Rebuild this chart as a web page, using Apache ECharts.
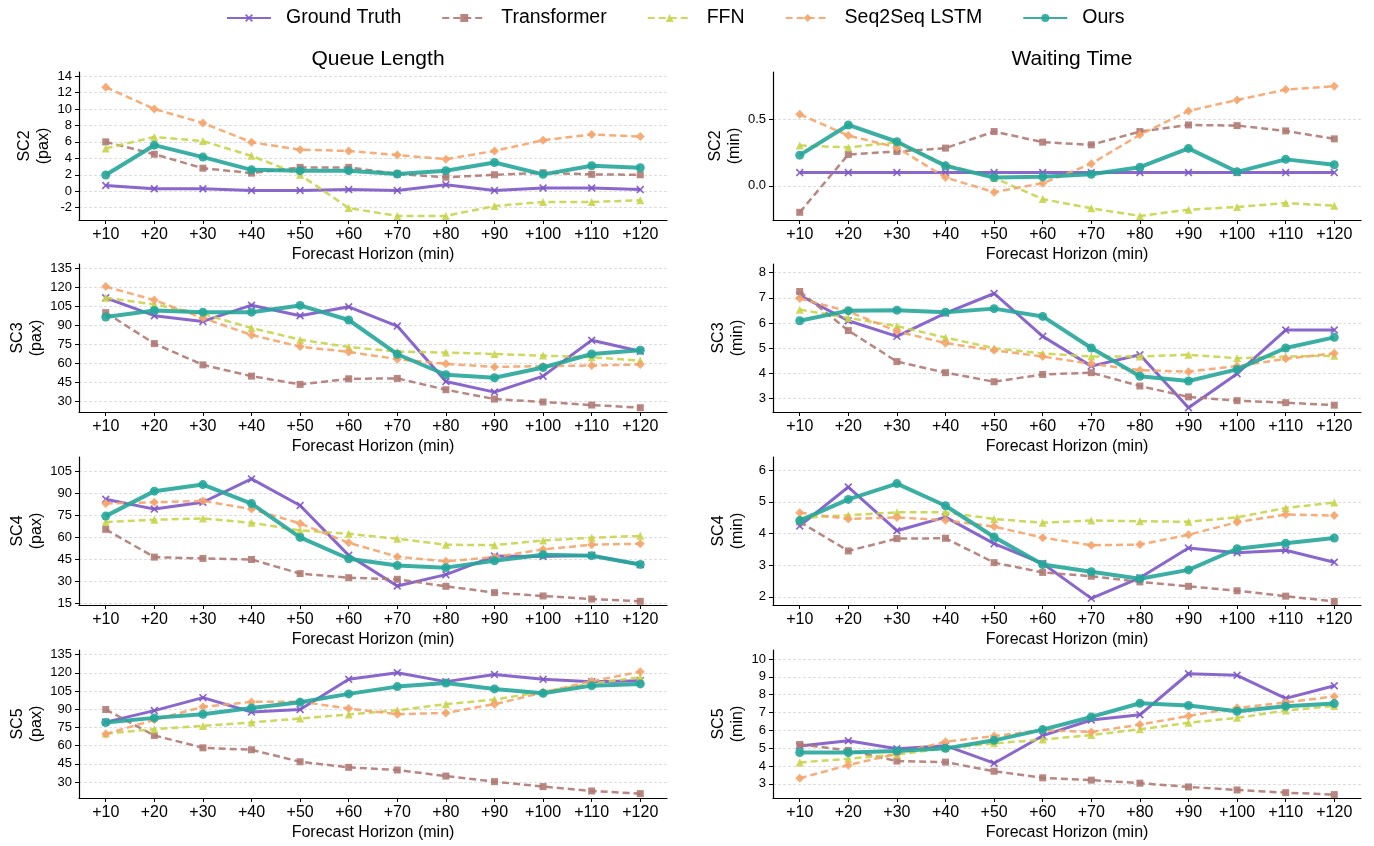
<!DOCTYPE html>
<html>
<head>
<meta charset="utf-8">
<script src="https://cdn.jsdelivr.net/npm/echarts@6/dist/echarts.min.js"></script>
<style>
html,body{margin:0;padding:0;background:#fff;}
#chart{width:1374px;height:846px;}
</style>
</head>
<body>
<div id="chart"></div>
<script>
// ---------- DATA ----------
const horizons = [10, 20, 30, 40, 50, 60, 70, 80, 90, 100, 110, 120];
const seriesNames = ['Ground Truth', 'Transformer', 'FFN', 'Seq2Seq LSTM', 'Ours'];
const columnTitles = ['Queue Length', 'Waiting Time'];
const xAxisTitle = 'Forecast Horizon (min)';

// SC2 queue length (pax)
const q_sc2_gt   = [0.7, 0.3, 0.3, 0.1, 0.1, 0.2, 0.1, 0.8, 0.1, 0.4, 0.4, 0.2];
const q_sc2_tf   = [6.0, 4.5, 2.8, 2.2, 2.9, 2.9, 2.1, 1.7, 2.0, 2.25, 2.05, 2.0];
const q_sc2_ffn  = [5.2, 6.6, 6.1, 4.3, 2.0, -2.05, -3.0, -3.0, -1.8, -1.3, -1.3, -1.1];
const q_sc2_s2s  = [12.66, 10.0, 8.3, 5.95, 5.05, 4.9, 4.4, 3.9, 4.9, 6.2, 6.9, 6.65];
const q_sc2_ours = [1.97, 5.6, 4.15, 2.6, 2.5, 2.5, 2.1, 2.5, 3.5, 2.05, 3.1, 2.85];
const q_sc2_ticks = [-2, 0, 2, 4, 6, 8, 10, 12, 14];

// SC2 waiting time (min)
const w_sc2_gt   = [0.1, 0.1, 0.1, 0.1, 0.1, 0.1, 0.1, 0.1, 0.1, 0.1, 0.1, 0.1];
const w_sc2_tf   = [-0.2, 0.237, 0.26, 0.285, 0.41, 0.33, 0.31, 0.41, 0.46, 0.455, 0.415, 0.355];
const w_sc2_ffn  = [0.305, 0.29, 0.33, 0.16, 0.06, -0.10, -0.17, -0.227, -0.18, -0.16, -0.13, -0.15];
const w_sc2_s2s  = [0.54, 0.38, 0.29, 0.063, -0.048, 0.02, 0.167, 0.386, 0.566, 0.649, 0.727, 0.752];
const w_sc2_ours = [0.232, 0.46, 0.333, 0.151, 0.063, 0.068, 0.088, 0.141, 0.283, 0.106, 0.2, 0.159];
const w_sc2_ticks = [0.0, 0.5];

// SC3 queue length (pax)
const q_sc3_gt   = [111.7, 97.6, 93.1, 105.9, 97.6, 104.6, 89.4, 45.7, 37.3, 49.9, 78.2, 69.5];
const q_sc3_tf   = [100, 75.6, 58.8, 49.9, 43.4, 47.8, 48.1, 39.2, 31.8, 29.5, 27.1, 25.0];
const q_sc3_ffn  = [111.7, 106.5, 98.9, 87.9, 78.7, 72.9, 69.3, 68.5, 67.4, 66.1, 64.8, 62.2];
const q_sc3_s2s  = [120.6, 109.9, 95.7, 82.4, 73.2, 69.0, 63.3, 59.6, 57.2, 57.8, 58.3, 59.1];
const q_sc3_ours = [96.5, 101.7, 100.4, 100.4, 105.7, 94.2, 67.2, 51.0, 48.6, 56.7, 67.4, 70.3];
const q_sc3_ticks = [30, 45, 60, 75, 90, 105, 120, 135];

// SC3 waiting time (min)
const w_sc3_gt   = [7.1, 6.09, 5.47, 6.39, 7.17, 5.47, 4.29, 4.74, 2.64, 3.99, 5.72, 5.72];
const w_sc3_tf   = [7.25, 5.7, 4.47, 4.03, 3.67, 3.96, 4.03, 3.5, 3.07, 2.92, 2.84, 2.74];
const w_sc3_ffn  = [6.53, 6.2, 5.88, 5.42, 5.0, 4.79, 4.67, 4.67, 4.74, 4.6, 4.67, 4.7];
const w_sc3_s2s  = [6.97, 6.46, 5.67, 5.2, 4.92, 4.67, 4.38, 4.13, 4.07, 4.29, 4.58, 4.8];
const w_sc3_ours = [6.09, 6.49, 6.51, 6.43, 6.57, 6.26, 5.01, 3.89, 3.7, 4.16, 5.01, 5.43];
const w_sc3_ticks = [3, 4, 5, 6, 7, 8];

// SC4 queue length (pax)
const q_sc4_gt   = [86.1, 79.3, 84.0, 100, 81.8, 47.6, 26.6, 34.4, 47.1, 46.9, 47.6, 41.2];
const q_sc4_tf   = [65.4, 46.4, 45.5, 44.8, 35.1, 32.3, 31.2, 26.4, 22.1, 19.8, 17.7, 16.1];
const q_sc4_ffn  = [70.4, 72.0, 72.9, 69.9, 64.7, 62.4, 59.0, 54.9, 54.6, 57.8, 59.7, 61.0];
const q_sc4_s2s  = [83.1, 84.0, 84.9, 79.3, 69.5, 56.2, 46.7, 43.5, 46.4, 51.7, 54.9, 55.6];
const q_sc4_ours = [74.5, 91.6, 96.1, 83.1, 59.9, 45.3, 40.7, 39.2, 43.9, 48.0, 47.4, 41.4];
const q_sc4_ticks = [15, 30, 45, 60, 75, 90, 105];

// SC4 waiting time (min)
const w_sc4_gt   = [4.24, 5.47, 4.09, 4.52, 3.68, 3.05, 1.95, 2.6, 3.54, 3.39, 3.47, 3.09];
const w_sc4_tf   = [4.37, 3.45, 3.84, 3.85, 3.08, 2.77, 2.65, 2.47, 2.33, 2.19, 2.02, 1.85];
const w_sc4_ffn  = [4.49, 4.58, 4.67, 4.67, 4.46, 4.34, 4.41, 4.39, 4.37, 4.51, 4.81, 4.98];
const w_sc4_s2s  = [4.66, 4.46, 4.51, 4.42, 4.22, 3.87, 3.63, 3.65, 3.96, 4.36, 4.6, 4.57];
const w_sc4_ours = [4.41, 5.08, 5.58, 4.88, 3.89, 3.02, 2.79, 2.57, 2.85, 3.52, 3.69, 3.86];
const w_sc4_ticks = [2, 3, 4, 5, 6];

// SC5 queue length (pax)
const q_sc5_gt   = [79.4, 88.9, 99.6, 87.8, 89.8, 114.7, 120.2, 112.8, 118.6, 114.7, 112.8, 113.6];
const q_sc5_tf   = [89.8, 68.4, 58.2, 56.6, 46.7, 42.1, 39.9, 34.9, 30.3, 26.2, 22.6, 20.4];
const q_sc5_ffn  = [70.0, 73.6, 76.3, 79.1, 82.4, 85.7, 89.2, 94.2, 98.0, 104.6, 111.2, 116.4];
const q_sc5_s2s  = [69.5, 81.3, 92.0, 96.1, 96.3, 90.6, 85.9, 87.0, 94.2, 103.8, 113.1, 121.0];
const q_sc5_ours = [79.1, 82.9, 85.9, 91.1, 95.8, 102.7, 108.7, 111.7, 106.8, 103.2, 109.5, 110.9];
const q_sc5_ticks = [30, 45, 60, 75, 90, 105, 120, 135];

// SC5 waiting time (min)
const w_sc5_gt   = [5.12, 5.42, 4.97, 5.14, 4.16, 5.70, 6.58, 6.87, 9.17, 9.08, 7.79, 8.5];
const w_sc5_tf   = [5.21, 4.88, 4.28, 4.22, 3.71, 3.34, 3.21, 3.04, 2.83, 2.66, 2.51, 2.4];
const w_sc5_ffn  = [4.2, 4.41, 4.65, 4.99, 5.27, 5.48, 5.74, 6.06, 6.42, 6.7, 7.11, 7.37];
const w_sc5_s2s  = [3.32, 4.05, 4.69, 5.36, 5.68, 6.0, 5.91, 6.32, 6.81, 7.26, 7.56, 7.9];
const w_sc5_ours = [4.76, 4.76, 4.84, 4.99, 5.44, 6.04, 6.75, 7.52, 7.39, 7.07, 7.35, 7.5];
const w_sc5_ticks = [3, 4, 5, 6, 7, 8, 9, 10];

// ---------- LAYOUT / STYLE ----------
const FONT = "'Liberation Sans', Arial, Helvetica, sans-serif";
const colLeft = [79, 773];
const gridWidth = 588;
const rowTop = [72, 264, 457, 650];
const gridHeight = 148;

const panels = [
  {row: 0, col: 0, name: 'SC2\n(pax)', ticks: q_sc2_ticks, min: -3.5, max: 14.5, dec: 0, data: [q_sc2_gt, q_sc2_tf, q_sc2_ffn, q_sc2_s2s, q_sc2_ours]},
  {row: 0, col: 1, name: 'SC2\n(min)', ticks: w_sc2_ticks, min: -0.258, max: 0.86, dec: 1, data: [w_sc2_gt, w_sc2_tf, w_sc2_ffn, w_sc2_s2s, w_sc2_ours]},
  {row: 1, col: 0, name: 'SC3\n(pax)', ticks: q_sc3_ticks, min: 21.6, max: 138.4, dec: 0, data: [q_sc3_gt, q_sc3_tf, q_sc3_ffn, q_sc3_s2s, q_sc3_ours]},
  {row: 1, col: 1, name: 'SC3\n(min)', ticks: w_sc3_ticks, min: 2.47, max: 8.34, dec: 0, data: [w_sc3_gt, w_sc3_tf, w_sc3_ffn, w_sc3_s2s, w_sc3_ours]},
  {row: 2, col: 0, name: 'SC4\n(pax)', ticks: q_sc4_ticks, min: 13.6, max: 115, dec: 0, data: [q_sc4_gt, q_sc4_tf, q_sc4_ffn, q_sc4_s2s, q_sc4_ours]},
  {row: 2, col: 1, name: 'SC4\n(min)', ticks: w_sc4_ticks, min: 1.74, max: 6.42, dec: 0, data: [w_sc4_gt, w_sc4_tf, w_sc4_ffn, w_sc4_s2s, w_sc4_ours]},
  {row: 3, col: 0, name: 'SC5\n(pax)', ticks: q_sc5_ticks, min: 16.8, max: 138.9, dec: 0, data: [q_sc5_gt, q_sc5_tf, q_sc5_ffn, q_sc5_s2s, q_sc5_ours]},
  {row: 3, col: 1, name: 'SC5\n(min)', ticks: w_sc5_ticks, min: 2.21, max: 10.5, dec: 0, data: [w_sc5_gt, w_sc5_tf, w_sc5_ffn, w_sc5_s2s, w_sc5_ours]}
];

const X_PATH = 'path://M0,1.5 L1.5,0 L5,3.5 L8.5,0 L10,1.5 L6.5,5 L10,8.5 L8.5,10 L5,6.5 L1.5,10 L0,8.5 L3.5,5 Z';
const styles = [
  {color: '#7d56c6', width: 3,   type: 'solid',  symbol: X_PATH,     size: 8},
  {color: '#b07a73', width: 2.5, type: [7, 4],   symbol: 'rect',     size: 7},
  {color: '#c8d44a', width: 2.5, type: [7, 4],   symbol: 'triangle', size: 8},
  {color: '#f5a46a', width: 2.5, type: [7, 4],   symbol: 'diamond',  size: 9},
  {color: '#26a69a', width: 4,   type: 'solid',  symbol: 'circle',   size: 9}
];

const grids = [], xAxes = [], yAxes = [], series = [];
panels.forEach((p, i) => {
  grids.push({left: colLeft[p.col], top: rowTop[p.row], width: gridWidth, height: gridHeight, containLabel: false});
  xAxes.push({
    type: 'value', gridIndex: i, min: 4.5, max: 125.5, position: 'bottom',
    name: xAxisTitle, nameLocation: 'middle', nameGap: 27,
    nameTextStyle: {fontFamily: FONT, fontSize: 16, color: '#000'},
    axisLine: {show: true, onZero: false, lineStyle: {color: '#000', width: 1.2}},
    axisTick: {show: true, length: 4, inside: false, customValues: horizons, lineStyle: {color: '#000', width: 1}},
    axisLabel: {customValues: horizons, margin: 7, fontFamily: FONT, fontSize: 16, color: '#000',
                formatter: v => '+' + v},
    splitLine: {show: false}
  });
  yAxes.push({
    type: 'value', gridIndex: i, min: p.min, max: p.max, position: 'left',
    name: p.name, nameLocation: 'middle', nameGap: 26,
    nameTextStyle: {fontFamily: FONT, fontSize: 16, color: '#000', lineHeight: 19, align: 'center'},
    axisLine: {show: true, onZero: false, lineStyle: {color: '#000', width: 1.2}},
    axisTick: {show: true, length: 4, inside: false, customValues: p.ticks, lineStyle: {color: '#000', width: 1}},
    axisLabel: {customValues: p.ticks, margin: 7, fontFamily: FONT, fontSize: 13, color: '#000',
                formatter: v => Number(v).toFixed(p.dec)},
    splitLine: {show: true, lineStyle: {color: '#d6d6d6', width: 0.8, type: [3, 2]}}
  });
  p.data.forEach((arr, k) => {
    const s = styles[k];
    series.push({
      name: seriesNames[k], type: 'line', xAxisIndex: i, yAxisIndex: i,
      data: horizons.map((h, j) => [h, arr[j]]),
      symbol: s.symbol, symbolSize: s.size, showSymbol: true,
      z: 2 + k,
      lineStyle: {color: s.color, width: s.width, type: s.type, opacity: 0.9},
      itemStyle: {color: s.color, opacity: 0.9, borderWidth: 0},
      emphasis: {disabled: true},
      animation: false
    });
  });
});

const chart = echarts.init(document.getElementById('chart'), null, {renderer: 'canvas'});
chart.setOption({
  backgroundColor: '#ffffff',
  animation: false,
  textStyle: {fontFamily: FONT},
  title: [
    {text: columnTitles[0], left: colLeft[0] + gridWidth / 2, top: 44, textAlign: 'center',
     textStyle: {fontFamily: FONT, fontSize: 21, fontWeight: 'normal', color: '#000'}},
    {text: columnTitles[1], left: colLeft[1] + gridWidth / 2, top: 44, textAlign: 'center',
     textStyle: {fontFamily: FONT, fontSize: 21, fontWeight: 'normal', color: '#000'}}
  ],
  legend: {
    data: seriesNames, top: 3, left: 221,
    itemWidth: 44, itemHeight: 10, itemGap: 40,
    textStyle: {fontFamily: FONT, fontSize: 19.5, color: '#000', padding: [0, 0, 0, 10]}
  },
  grid: grids,
  xAxis: xAxes,
  yAxis: yAxes,
  series: series
});
</script>
</body>
</html>
